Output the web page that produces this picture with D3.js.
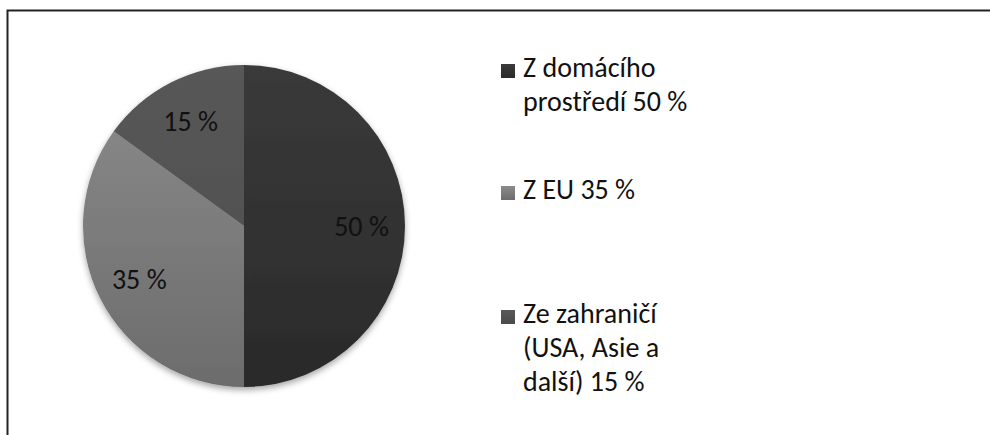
<!DOCTYPE html>
<html>
<head>
<meta charset="utf-8">
<script src="https://cdn.jsdelivr.net/npm/d3@7"></script>
<style>
  body { margin: 0; background: #fff; }
  svg { display: block; font-family: Carlito, Lato, "Open Sans", sans-serif; }
</style>
</head>
<body>
<div id="chart"></div>
<script>
var categories = ["Z domácího prostředí", "Z EU", "Ze zahraničí (USA, Asie a další)"]
var values = [50, 35, 15]
var sliceLabels = ["50 %", "35 %", "15 %"]
var legendLines = [
  ["Z domácího", "prostředí 50 %"],
  ["Z EU 35 %"],
  ["Ze zahraničí", "(USA, Asie a", "další) 15 %"]
]

var width = 990, height = 435
var cx = 244, cy = 226, radius = 161

// top / bottom shade of each slice
var shades = [["#3a3a3a", "#2a2a2a"], ["#8c8c8c", "#6c6c6c"], ["#585858", "#4a4a4a"]]

var svg = d3.select("#chart").append("svg")
  .attr("width", width)
  .attr("height", height)

var defs = svg.append("defs")

shades.forEach(function (s, i) {
  var g = defs.append("linearGradient")
    .attr("id", "grad" + i)
    .attr("gradientUnits", "userSpaceOnUse")
    .attr("x1", 0).attr("y1", -radius)
    .attr("x2", 0).attr("y2", radius)
  g.append("stop").attr("offset", "0%").attr("stop-color", s[0])
  g.append("stop").attr("offset", "100%").attr("stop-color", s[1])

  var lg = defs.append("linearGradient")
    .attr("id", "lgrad" + i)
    .attr("x1", 0).attr("y1", 0)
    .attr("x2", 0).attr("y2", 1)
  lg.append("stop").attr("offset", "0%").attr("stop-color", s[0])
  lg.append("stop").attr("offset", "100%").attr("stop-color", s[1])
})

var shadow = defs.append("filter")
  .attr("id", "shadow")
  .attr("x", "-10%").attr("y", "-10%")
  .attr("width", "120%").attr("height", "125%")
shadow.append("feDropShadow")
  .attr("dx", 0).attr("dy", 3)
  .attr("stdDeviation", 3)
  .attr("flood-color", "#000")
  .attr("flood-opacity", 0.35)

// frame (only top and left edges are visible in the source)
svg.append("path")
  .attr("d", "M7.5,435 L7.5,10.5 L990,10.5")
  .attr("fill", "none")
  .attr("stroke", "#222")
  .attr("stroke-width", 2)

var pie = d3.pie().sort(null).value(function (d) { return d })
var arc = d3.arc().innerRadius(0).outerRadius(radius)
var labelArc = d3.arc().innerRadius(radius * 0.73).outerRadius(radius * 0.73)

var arcs = pie(values)

var g = svg.append("g")
  .attr("transform", "translate(" + cx + "," + cy + ")")

g.append("g")
  .attr("filter", "url(#shadow)")
  .selectAll("path")
  .data(arcs)
  .enter().append("path")
  .attr("d", arc)
  .attr("fill", function (d, i) { return "url(#grad" + i + ")" })

g.selectAll(".slice-label")
  .data(arcs)
  .enter().append("text")
  .attr("class", "slice-label")
  .attr("transform", function (d) { return "translate(" + labelArc.centroid(d) + ")" })
  .attr("text-anchor", "middle")
  .attr("dy", "0.35em")
  .style("font-size", "28px")
  .style("fill", "#111")
  .text(function (d, i) { return sliceLabels[i] })

// legend
var legendTops = [77, 199, 323]
var lineStep = 34

var legend = svg.append("g")
  .selectAll("g")
  .data(categories)
  .enter().append("g")
  .attr("transform", function (d, i) { return "translate(501," + legendTops[i] + ")" })

legend.append("rect")
  .attr("x", 0)
  .attr("y", -13)
  .attr("width", 14)
  .attr("height", 14)
  .attr("fill", function (d, i) { return "url(#lgrad" + i + ")" })

legend.append("text")
  .style("font-size", "28px")
  .style("fill", "#111")
  .selectAll("tspan")
  .data(function (d, i) { return legendLines[i] })
  .enter().append("tspan")
  .attr("x", 22)
  .attr("y", function (d, j) { return j * lineStep })
  .text(function (d) { return d })
</script>
</body>
</html>
